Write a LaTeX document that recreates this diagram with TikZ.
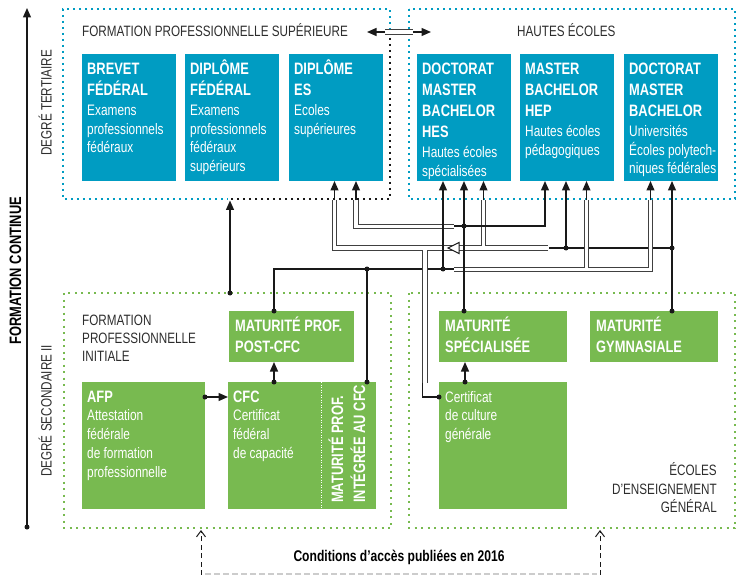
\documentclass[tikz,border=0pt]{standalone}
\usepackage{fontspec}
\setmainfont[FakeStretch=0.78]{Liberation Sans}
\usetikzlibrary{arrows.meta}
\definecolor{sblue}{RGB}{0,156,194}
\definecolor{sgreen}{RGB}{120,186,80}
\definecolor{lc}{RGB}{25,25,25}
\definecolor{tc}{RGB}{45,45,45}
\newcommand\tf{\bfseries\fontsize{16.5}{21}\selectfont}
\newcommand\bd{\mdseries\fontsize{15.2}{18.7}\selectfont}
\newcommand\lb{\fontsize{15}{18.3}\selectfont}
\newcommand\bt[1]{\parbox[t]{170pt}{\rule{0pt}{20pt}#1}}
\begin{document}
\begin{tikzpicture}[x=1pt,y=-1pt,
 box/.style={anchor=north west, inner sep=0pt, outer sep=0pt},
 bb/.style={box, fill=sblue, minimum width=93.5pt, minimum height=127pt},
 gb/.style={box, fill=sgreen},
 btx/.style={anchor=north west, inner sep=0pt, text=white},
 lab/.style={inner sep=0pt, text=tc, font=\lb},
 ln/.style={draw=lc, line width=1.3pt},
 dbl/.style={draw=black!75, line width=1pt, double=white, double distance=3.6pt},
 arr/.style={-{Triangle[length=9.5pt,width=8pt]}},
 dot/.style={circle, fill=lc, inner sep=0pt, minimum size=5pt},
 bdots/.style={draw=sblue, line width=2pt, dash pattern=on 2pt off 4pt},
 gdots/.style={draw=sgreen, line width=2pt, dash pattern=on 2pt off 4.5pt},
 kdots/.style={draw=lc, line width=2pt, dash pattern=on 2pt off 4pt},
]
\useasboundingbox (0,0) rectangle (737,575);

% ---- region borders
\draw[bdots] (390,30) -- (390,9) -- (63,9) -- (63,199) -- (228,199);
\draw[kdots] (390,38) -- (390,199) -- (228,199);
\draw[bdots] (409,9) rectangle (735,199);
\draw[gdots] (64,293) rectangle (391,528);
\draw[gdots] (409,293) rectangle (735,528);

% ---- side labels
\draw[ln, arr] (27,527) coordinate (axb) -- (27,8) coordinate (axt);
\node[dot] (axdot) at (axb) {};
\node[rotate=90, anchor=base west, inner sep=0pt, text=black, font=\bfseries\fontsize{16.5}{20}\selectfont] (fc) at (21,345) {FORMATION CONTINUE};
\node[lab, rotate=90, anchor=base west, font=\fontsize{15}{18}\selectfont] (dt) at (51.5,156) {DEGRÉ TERTIAIRE};
\node[lab, rotate=90, anchor=base west, font=\fontsize{15}{18}\selectfont] (ds) at (51.5,477) {DEGRÉ SECONDAIRE II};

% ---- region titles
\node[lab, anchor=base west] (fps) at (82,37) {FORMATION PROFESSIONNELLE SUPÉRIEURE};
\node[lab, anchor=base west] (hel) at (517,37) {HAUTES ÉCOLES};
\node[lab, anchor=north west] (fpi) at (82,313) {\parbox[t]{170pt}{\lb\rule{0pt}{12pt}FORMATION\\PROFESSIONNELLE\\INITIALE}};
\node[lab, anchor=north east] (eeg) at (717,462.5) {\parbox[t]{170pt}{\raggedleft\lb\rule{0pt}{12pt}ÉCOLES\\D’ENSEIGNEMENT\\GÉNÉRAL}};

% ---- tertiary boxes
\node[bb] (bf)  at (82,54)  {};
\node[bb] (df)  at (185,54) {};
\node[bb] (es)  at (289,54) {};
\node[bb] (hes) at (417,54) {};
\node[bb] (hep) at (520,54) {};
\node[bb] (uni) at (624,54) {};
\node[btx] (bft) at ([xshift=5pt]bf.north west) {\bt{{\tf BREVET\\FÉDÉRAL\par}\bd\vspace{1.5pt}Examens\\professionnels\\fédéraux}};
\node[btx] (dft) at ([xshift=5pt]df.north west) {\bt{{\tf DIPLÔME\\FÉDÉRAL\par}\bd\vspace{1.5pt}Examens\\professionnels\\fédéraux\\supérieurs}};
\node[btx] (est) at ([xshift=5pt]es.north west) {\bt{{\tf DIPLÔME\\ES\par}\bd\vspace{1.5pt}Ecoles\\supérieures}};
\node[btx] (hest) at ([xshift=5pt]hes.north west) {\bt{{\tf DOCTORAT\\MASTER\\BACHELOR\\HES\par}\bd\vspace{1.5pt}Hautes écoles\\spécialisées}};
\node[btx] (hept) at ([xshift=5pt]hep.north west) {\bt{{\tf MASTER\\BACHELOR\\HEP\par}\bd\vspace{1.5pt}Hautes écoles\\pédagogiques}};
\node[btx] (unit) at ([xshift=5pt]uni.north west) {\bt{{\tf DOCTORAT\\MASTER\\BACHELOR\par}\bd\vspace{1.5pt}Universités\\Écoles polytech-\\niques fédérales}};

% ---- secondary boxes
\node[gb, minimum width=125pt, minimum height=51pt] (mpp) at (229,311) {};
\node[gb, minimum width=123pt, minimum height=127pt] (afp) at (82,382) {};
\node[gb, minimum width=93pt,  minimum height=127pt] (cfc) at (228,382) {};
\node[gb, minimum width=55pt,  minimum height=127pt] (mpi) at (321,382) {};
\node[gb, minimum width=128pt, minimum height=51pt] (ms)  at (439,311) {};
\node[gb, minimum width=128pt, minimum height=51pt] (mg)  at (590,311) {};
\node[gb, minimum width=128pt, minimum height=127pt] (ccg) at (439,382) {};
\draw[white, line width=0.8pt, dash pattern=on 1pt off 1.5pt] (mpi.north west) -- (mpi.south west);
\node[btx] (mppt) at ([xshift=6pt]mpp.north west) {\bt{\tf MATURITÉ PROF.\\POST-CFC}};
\node[btx] (afpt) at ([xshift=5pt]afp.north west) {\bt{{\tf AFP\par}\bd\vspace{0pt}Attestation\\fédérale\\de formation\\professionnelle}};
\node[btx] (cfct) at ([xshift=5pt]cfc.north west) {\bt{{\tf CFC\par}\bd\vspace{0pt}Certificat\\fédéral\\de capacité}};
\node[rotate=90, anchor=base west, inner sep=0pt, text=white, font=\tf] (mpit1) at (343,503) {MATURITÉ PROF.};
\node[rotate=90, anchor=base west, inner sep=0pt, text=white, font=\tf] (mpit2) at (365,503) {INTÉGRÉE AU CFC};
\node[btx] (mst) at ([xshift=6pt]ms.north west) {\bt{\tf MATURITÉ\\SPÉCIALISÉE}};
\node[btx] (mgt) at ([xshift=6pt]mg.north west) {\bt{\tf MATURITÉ\\GYMNASIALE}};
\node[btx] (ccgt) at ([xshift=6pt]ccg.north west) {\bt{\bd Certificat\\de culture\\générale}};

% ---- bottom
\node[inner sep=0pt, anchor=base, text=black, font=\bfseries\fontsize{15.5}{18}\selectfont] (cond) at (399,561.5) {Conditions d’accès publiées en 2016};
\draw[black!20, line width=1.3pt, dash pattern=on 6pt off 3pt] (205,574) coordinate (gl) -- (597,574) coordinate (gr);
\draw[lc, line width=1pt, dash pattern=on 5pt off 3.5pt, -{Straight Barb[length=6pt,width=9pt]}] (201,575) coordinate (b1s) -- (201,530) coordinate (b1e);
\draw[lc, line width=1pt, dash pattern=on 5pt off 3.5pt, -{Straight Barb[length=6pt,width=9pt]}] (600,575) coordinate (b2s) -- (600,530) coordinate (b2e);

% ---- top double arrow
\coordinate (dl) at (385,32); \coordinate (dr) at (413,32);
\coordinate (dla) at (367,32); \coordinate (dra) at (431,32);
\draw[dbl] (dl) -- (dr);
\draw[ln, arr] (dl) -- (dla);
\draw[ln, arr] (dr) -- (dra);

% ---- simple arrows
\draw[ln, arr] (afp.east |- 0,397) coordinate (a1) -- (cfc.west |- 0,397);
\draw[ln, arr] (274,0 |- cfc.north) coordinate (a2) -- (274,0 |- mpp.south);
\draw[ln, arr] (465,0 |- ccg.north) coordinate (a3) -- (465,0 |- ms.south);
\draw[ln, arr] (230,293) coordinate (a4) -- (230,200.5) coordinate (a4e);

% ---- network: horizontals below doubles
\draw[ln] (274,0 |- mpp.north) coordinate (p1) |- (454,269) coordinate (p2);
\draw[ln] (549,248) coordinate (g1) -- (672,248) coordinate (g2);

% ---- double lines
\draw[dbl] (454,226.5) -| (356,200);
\draw[dbl] (548,248) -- (334.5,248) -- (334.5,200)
           (483.5,248) -- (483.5,200)
           (425,248) -- (425,383);
\draw[dbl] (454,269.5) -| (650.5,200)
           (586.5,269.5) -- (586.5,200);

% ---- singles on top
\draw[ln, arr] (454,226) -| (545,0 |- hep.south);
\draw[ln, arr] (464,0 |- ms.north) coordinate (m1) -- (464,0 |- hes.south);
\draw[ln, arr] (443,269) coordinate (m2) -- (443,0 |- hes.south);
\draw[ln] (367,0 |- mpi.north) coordinate (m3) -- (367,269) coordinate (m4);
\draw[ln, arr] (672,0 |- mg.north) coordinate (m5) -- (672,0 |- uni.south);
\draw[ln, arr] (566,248) coordinate (m6) -- (566,0 |- hep.south);
\draw[ln, arr] (334.5,200.5) -- (334.5,0 |- es.south);
\draw[ln, arr] (356,200.5) -- (356,0 |- es.south);
\draw[ln, arr] (483.5,200.5) -- (483.5,0 |- hes.south);
\draw[ln, arr] (586.5,200.5) -- (586.5,0 |- hep.south);
\draw[ln, arr] (650.5,200.5) -- (650.5,0 |- uni.south);
\draw[ln] (422.6,382.5) |- (ccg.west |- 0,397) coordinate (c1);

% ---- open triangle
\draw[lc, line width=1pt, fill=white] (448,248) -- (459,242.5) -- (459,253.5) -- cycle;

% ---- dots
\foreach \p in {a1,a2,a3,a4,p1,m1,m2,m3,m4,m5,m6,c1}
  \node[dot] at (\p) {};
\node[dot] (d464) at (464,226) {};
\node[dot] (d672) at (672,248) {};
\end{tikzpicture}
\end{document}
